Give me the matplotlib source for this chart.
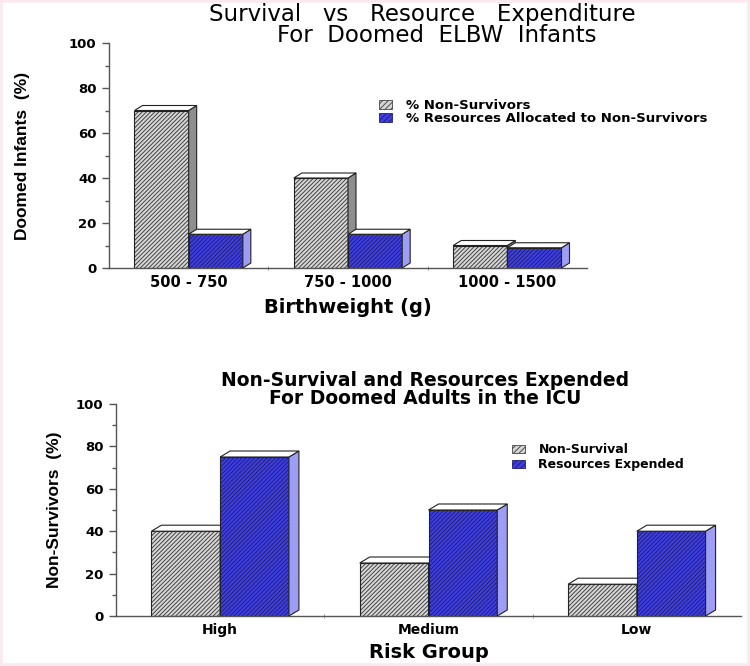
import matplotlib.pyplot as plt
import matplotlib.patches as mpatches
from matplotlib.patches import Polygon
import numpy as np

# top panel: ELBW infants
weight_groups = ['500 - 750', '750 - 1000', '1000 - 1500']
infant_nonsurv = [70, 40, 10]
infant_resources = [15, 15, 9]

# bottom panel: adults in the ICU
risk_groups = ['High', 'Medium', 'Low']
adult_nonsurv = [40, 25, 15]
adult_resources = [75, 50, 40]

GRAY = dict(face='#d6d6d6', hatch='#3a3a3a', side='#8e8e8e')
BLUE = dict(face='#3e3ee4', hatch='#20206e', side='#9d9df4')
HATCH = '////////'

plt.rcParams['hatch.linewidth'] = 0.65
plt.rcParams['font.family'] = ['DejaVu Sans']

fig = plt.figure(figsize=(7.5, 6.66), dpi=100)
W, H = 750, 666


def bar3d(ax, x, h, width, style, dxp, dyp):
    # pixel depth -> data units
    pos = ax.get_position()
    x0, x1 = ax.get_xlim()
    y0, y1 = ax.get_ylim()
    dx = dxp * (x1 - x0) / (pos.width * W)
    dy = dyp * (y1 - y0) / (pos.height * H)
    left, right = x - width / 2, x + width / 2
    ax.bar(x, h, width, color=style['face'], linewidth=0, zorder=2)
    ax.bar(x, h, width, color='none', edgecolor=style['hatch'], hatch=HATCH,
           linewidth=0, zorder=2)
    ax.bar(x, h, width, color='none', edgecolor='#222222', linewidth=0.8, zorder=2)
    side = Polygon([(right, 0), (right + dx, dy), (right + dx, h + dy), (right, h)],
                   closed=True, facecolor=style['side'], edgecolor='#222222',
                   linewidth=0.8, zorder=2)
    top = Polygon([(left, h), (left + dx, h + dy), (right + dx, h + dy), (right, h)],
                  closed=True, facecolor='white', edgecolor='#222222',
                  linewidth=0.8, zorder=2)
    ax.add_patch(side)
    ax.add_patch(top)


def style_axes(ax):
    ax.set_xlim(-0.5, 2.5)
    ax.set_ylim(0, 100)
    for s in ['top', 'right']:
        ax.spines[s].set_visible(False)
    for s in ['left', 'bottom']:
        ax.spines[s].set_color('#555555')
        ax.spines[s].set_linewidth(1.0)
    ax.set_yticks(np.arange(0, 101, 20))
    ax.set_yticks(np.arange(10, 100, 20), minor=True)
    ax.tick_params(axis='y', which='major', length=5, color='#555555', width=1, pad=4)
    ax.tick_params(axis='y', which='minor', length=3, color='#555555', width=1)
    ax.set_xticks([0, 1, 2])
    ax.set_xticks([0.5, 1.5], minor=True)
    ax.tick_params(axis='x', which='major', length=0, pad=5)
    ax.tick_params(axis='x', which='minor', length=3, color='#888888', direction='inout')
    for lab in ax.get_yticklabels():
        lab.set_fontweight('bold')
        lab.set_fontsize(9.5)
    ax.set_facecolor('none')


def legend_handles(labels):
    return [mpatches.Patch(facecolor=GRAY['face'], edgecolor='#444444', hatch='//////',
                           linewidth=0.6, label=labels[0]),
            mpatches.Patch(facecolor=BLUE['face'], edgecolor='#20206e', hatch='//////',
                           linewidth=0.6, label=labels[1])]


# ---- top ----
ax1 = fig.add_axes([109 / W, 1 - 268 / H, 478 / W, 225 / H])
style_axes(ax1)
w = 0.34
for i in range(3):
    bar3d(ax1, i - w / 2, infant_nonsurv[i], w, GRAY, 8, 5)
    bar3d(ax1, i + w / 2, infant_resources[i], w, BLUE, 8, 5)
ax1.set_xticklabels(weight_groups, fontweight='bold', fontsize=10.5)
ax1.set_xlabel('Birthweight (g)', fontweight='bold', fontsize=14, labelpad=6)
ax1.set_ylabel('Doomed Infants  (%)', fontweight='bold', fontsize=12.5,
               family='Liberation Sans', labelpad=28)
ax1.legend(handles=legend_handles(['% Non-Survivors',
                                   '% Resources Allocated to Non-Survivors']),
           loc='upper left', bbox_to_anchor=(0.545, 0.79), frameon=False,
           handlelength=1.0, handleheight=0.7, handletextpad=1.1,
           labelspacing=0.0, borderpad=0.2, prop={'weight': 'bold', 'size': 9.5})
fig.text(422 / W, 1 - 15 / H, 'Survival   vs   Resource   Expenditure',
         ha='center', va='center', fontsize=16.5)
fig.text(437 / W, 1 - 36 / H, 'For  Doomed  ELBW  Infants',
         ha='center', va='center', fontsize=16.5)

# ---- bottom ----
ax2 = fig.add_axes([116 / W, 1 - 616 / H, 625 / W, 212 / H])
style_axes(ax2)
w = 0.33
for i in range(3):
    bar3d(ax2, i - w / 2, adult_nonsurv[i], w, GRAY, 10, 6)
    bar3d(ax2, i + w / 2, adult_resources[i], w, BLUE, 10, 6)
ax2.set_xticklabels(risk_groups, fontweight='bold', fontsize=10)
ax2.set_xlabel('Risk Group', fontweight='bold', fontsize=14, labelpad=4)
ax2.set_ylabel('Non-Survivors  (%)', fontweight='bold', fontsize=12.5,
               family='Liberation Sans', labelpad=10)
ax2.legend(handles=legend_handles(['Non-Survival', 'Resources Expended']),
           loc='upper left', bbox_to_anchor=(0.62, 0.855), frameon=False,
           handlelength=1.0, handleheight=0.7, handletextpad=1.1,
           labelspacing=0.15, borderpad=0.2, prop={'weight': 'bold', 'size': 9})
fig.text(425 / W, 1 - 380 / H, 'Non-Survival and Resources Expended',
         ha='center', va='center', fontsize=13.5, fontweight='bold')
fig.text(425 / W, 1 - 399 / H, 'For Doomed Adults in the ICU',
         ha='center', va='center', fontsize=13.5, fontweight='bold')

# faint border
fig.patches.append(mpatches.Rectangle((0, 0), 1, 1, transform=fig.transFigure,
                                      fill=False, edgecolor='#fbe9f0', linewidth=4))

fig.savefig('out.png', dpi=100)
